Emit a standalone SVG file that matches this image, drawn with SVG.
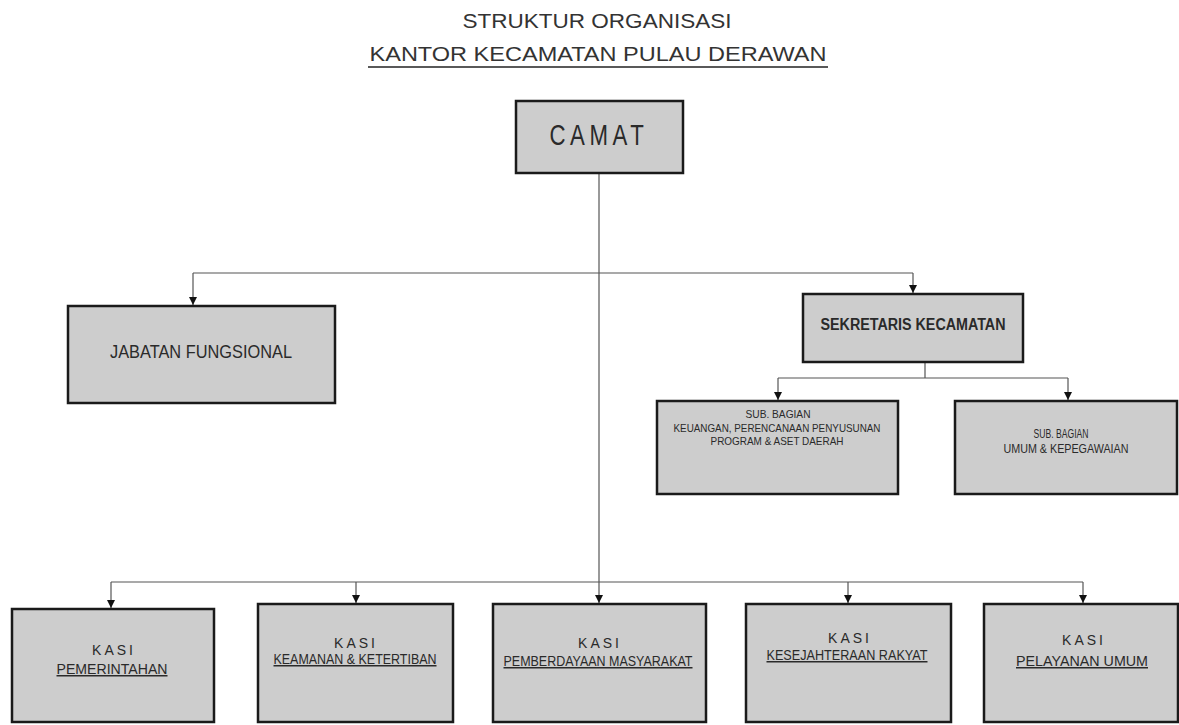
<svg xmlns="http://www.w3.org/2000/svg" width="1179" height="725" viewBox="0 0 1179 725">
<defs>
<marker id="arr" viewBox="0 0 8 8" refX="8" refY="4" markerWidth="8" markerHeight="8" markerUnits="userSpaceOnUse" orient="auto">
<path d="M0,0 L8,4 L0,8 Z" fill="#111"/>
</marker>
</defs>
<style>
.box{fill:#cdcdcd;stroke:#1a1a1a;stroke-width:2.5}
.ln{fill:none;stroke:#555;stroke-width:1.2}
.ar{fill:none;stroke:#555;stroke-width:1.2;marker-end:url(#arr)}
text{font-family:"Liberation Sans",Arial,sans-serif;fill:#2a2a2a;text-anchor:middle}
.t{font-size:21px;font-weight:300;fill:#333}
.k{font-size:14px;letter-spacing:3px}
.u{font-size:15px;text-decoration:underline}
.s{font-size:11px}
</style>
<rect width="1179" height="725" fill="#fff"/>
<g id="title">
<text class="t" x="597" y="28" textLength="269" lengthAdjust="spacingAndGlyphs">STRUKTUR ORGANISASI</text>
<text class="t" x="598" y="61" textLength="457" lengthAdjust="spacingAndGlyphs">KANTOR KECAMATAN PULAU DERAWAN</text>
<line x1="368" y1="67" x2="828" y2="67" stroke="#222" stroke-width="1.5"/>
</g>
<g id="connectors">
<path class="ar" d="M599,173 V603"/>
<path class="ln" d="M193,273 H913"/>
<path class="ar" d="M193,273 V305"/>
<path class="ar" d="M913,273 V293"/>
<path class="ln" d="M925,362 V378 M778,378 H1068"/>
<path class="ar" d="M778,378 V400"/>
<path class="ar" d="M1068,378 V400"/>
<path class="ln" d="M111,582 H1083"/>
<path class="ar" d="M111,582 V608"/>
<path class="ar" d="M356,582 V603"/>
<path class="ar" d="M848,582 V603"/>
<path class="ar" d="M1083,582 V603"/>
</g>
<g id="camat">
<rect class="box" x="516" y="101" width="167" height="72" stroke-width="3.5"/>
<text x="599" y="145" font-size="29" letter-spacing="6" textLength="99" lengthAdjust="spacingAndGlyphs">CAMAT</text>
</g>
<g id="jabatan">
<rect class="box" x="68" y="306" width="267" height="97"/>
<text x="201" y="358" font-size="18" textLength="182" lengthAdjust="spacingAndGlyphs">JABATAN  FUNGSIONAL</text>
</g>
<g id="sekretaris">
<rect class="box" x="803" y="294" width="220" height="68"/>
<text x="913" y="330" font-size="16" font-weight="bold" textLength="185" lengthAdjust="spacingAndGlyphs">SEKRETARIS KECAMATAN</text>
</g>
<g id="subbag1">
<rect class="box" x="657" y="401" width="241" height="93"/>
<text class="s" x="778" y="418" textLength="65" lengthAdjust="spacingAndGlyphs">SUB. BAGIAN</text>
<text class="s" x="777" y="432" textLength="207" lengthAdjust="spacingAndGlyphs">KEUANGAN, PERENCANAAN PENYUSUNAN</text>
<text class="s" x="777" y="445" textLength="133" lengthAdjust="spacingAndGlyphs">PROGRAM &amp; ASET DAERAH</text>
</g>
<g id="subbag2">
<rect class="box" x="955" y="401" width="222" height="93"/>
<text x="1061" y="438" font-size="12" textLength="55" lengthAdjust="spacingAndGlyphs">SUB. BAGIAN</text>
<text x="1066" y="453" font-size="12" textLength="125" lengthAdjust="spacingAndGlyphs">UMUM &amp; KEPEGAWAIAN</text>
</g>
<g id="kasi1">
<rect class="box" x="12" y="609" width="202" height="113"/>
<text class="k" x="114" y="655">KASI</text>
<text class="u" x="112" y="674" textLength="111" lengthAdjust="spacingAndGlyphs">PEMERINTAHAN</text>
</g>
<g id="kasi2">
<rect class="box" x="258" y="604" width="195" height="118"/>
<text class="k" x="356" y="648">KASI</text>
<text class="u" x="355" y="664" textLength="163" lengthAdjust="spacingAndGlyphs">KEAMANAN &amp; KETERTIBAN</text>
</g>
<g id="kasi3">
<rect class="box" x="493" y="604" width="213" height="118"/>
<text class="k" x="600" y="648">KASI</text>
<text class="u" x="598" y="666" textLength="189" lengthAdjust="spacingAndGlyphs">PEMBERDAYAAN MASYARAKAT</text>
</g>
<g id="kasi4">
<rect class="box" x="746" y="604" width="205" height="118"/>
<text class="k" x="850" y="643">KASI</text>
<text class="u" x="847" y="660" textLength="161" lengthAdjust="spacingAndGlyphs">KESEJAHTERAAN RAKYAT</text>
</g>
<g id="kasi5">
<rect class="box" x="984" y="604" width="194" height="118"/>
<text class="k" x="1084" y="645">KASI</text>
<text class="u" x="1082" y="666" textLength="132" lengthAdjust="spacingAndGlyphs">PELAYANAN UMUM</text>
</g>
</svg>
